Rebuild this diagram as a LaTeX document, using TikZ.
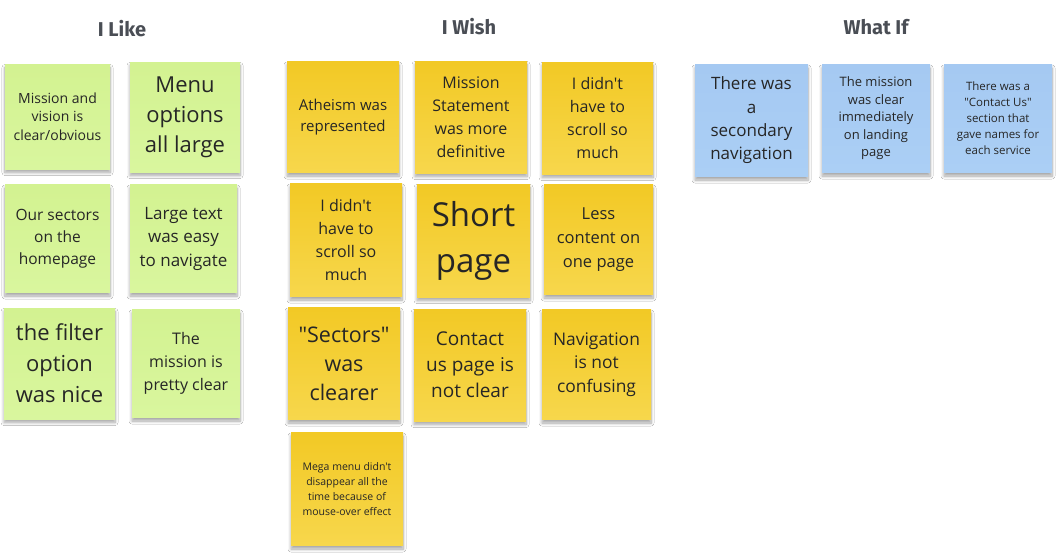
\documentclass[tikz,border=0pt]{standalone}
\usepackage{fontspec}
\usetikzlibrary{shadows.blur}
\newfontfamily\notefont{Open Sans}
\newfontfamily\headfont{Fira Sans}
\definecolor{headgray}{HTML}{4A4E55}
\definecolor{inkgray}{HTML}{262626}
\definecolor{limetop}{HTML}{D3F291}
\definecolor{limebot}{HTML}{D9F69E}
\definecolor{sunTop}{HTML}{F2C925}
\definecolor{sunBot}{HTML}{F7D74C}
\definecolor{skyTop}{HTML}{A5C9F2}
\definecolor{skyBot}{HTML}{ABCFF5}
\newcommand\fs[2]{\fontsize{#1}{#2}\selectfont}
\tikzset{
  sticky/.style={draw=none, align=center, inner sep=0pt, text=inkgray,
    blur shadow={shadow xshift=0pt, shadow yshift=-3.5pt,
      shadow blur radius=3pt, shadow opacity=35, shadow blur steps=8}},
  likenote/.style={sticky, top color=limetop, bottom color=limebot},
  wishnote/.style={sticky, top color=sunTop, bottom color=sunBot},
  ifnote/.style={sticky, top color=skyTop, bottom color=skyBot},
  header/.style={text=headgray, font=\headfont\bfseries\fs{20}{24}},
}
\begin{document}
\begin{tikzpicture}[x=1pt, y=-1pt]
\useasboundingbox (0,0) rectangle (1062,555);
\fill[white] (0,0) rectangle (1062,555);

% column headers
\node[header] (hlike) at (122,29) {I Like};
\node[header] (hwish) at (469,27) {I Wish};
\node[header] (hif)   at (876,27) {What If};

% I Like
\node[likenote, minimum width=105, minimum height=105, font=\notefont\fs{14}{18.3}] (l1) at (57.5,116.5) {Mission and\\vision is\\clear/obvious};
\node[likenote, minimum width=110, minimum height=110, font=\notefont\fs{22}{30}] (l2) at (185,117) {Menu\\options\\all large};
\node[likenote, minimum width=105, minimum height=108, font=\notefont\fs{15.5}{22}] (l3) at (57.5,238.5) {Our sectors\\on the\\homepage};
\node[likenote, minimum width=107, minimum height=108, font=\notefont\fs{17}{23.5}] (l4) at (183.5,238.5) {Large text\\was easy\\to navigate};
\node[likenote, minimum width=111, minimum height=111, font=\notefont\fs{22}{31}] (l5) at (59.5,363.5) {the filter\\option\\was nice};
\node[likenote, minimum width=108, minimum height=108, font=\notefont\fs{16}{23}] (l6) at (186,363.5) {The\\mission is\\pretty clear};

% I Wish
\node[wishnote, minimum width=112, minimum height=111, font=\notefont\fs{15}{21}] (w1) at (343,117) {Atheism was\\represented};
\node[wishnote, minimum width=112, minimum height=112, font=\notefont\fs{16}{23}] (w2) at (471,117) {Mission\\Statement\\was more\\definitive};
\node[wishnote, minimum width=111, minimum height=112, font=\notefont\fs{16}{23}] (w3) at (597.5,118) {I didn't\\have to\\scroll so\\much};
\node[wishnote, minimum width=112, minimum height=113, font=\notefont\fs{16}{23}] (w4) at (346,240) {I didn't\\have to\\scroll so\\much};
\node[wishnote, minimum width=113, minimum height=113, font=\notefont\fs{33}{46}] (w5) at (473.5,240.5) {Short\\page};
\node[wishnote, minimum width=109, minimum height=110, font=\notefont\fs{16.5}{24}] (w6) at (598.5,239.5) {Less\\content on\\one page};
\node[wishnote, minimum width=112, minimum height=112, font=\notefont\fs{21.5}{29}] (w7) at (344,363.5) {"Sectors"\\was\\clearer};
\node[wishnote, minimum width=112, minimum height=112, font=\notefont\fs{19}{26}] (w8) at (470,365) {Contact\\us page is\\not clear};
\node[wishnote, minimum width=109, minimum height=110, font=\notefont\fs{17.4}{23.5}] (w9) at (596.5,364.5) {Navigation\\is not\\confusing};
\node[wishnote, minimum width=112, minimum height=113, font=\notefont\fs{10.5}{15}] (w10) at (347,489) {Mega menu didn't\\disappear all the\\time because of\\mouse-over effect};

% What If
\node[ifnote, minimum width=113, minimum height=112, font=\notefont\fs{17}{23.3}] (f1) at (751.5,120.5) {There was\\a\\secondary\\navigation};
\node[ifnote, minimum width=108, minimum height=108, font=\notefont\fs{13}{17.5}] (f2) at (876,118.5) {The mission\\was clear\\immediately\\on landing\\page};
\node[ifnote, minimum width=108, minimum height=108, font=\notefont\fs{11.5}{16}] (f3) at (998,118.5) {There was a\\"Contact Us"\\section that\\gave names for\\each service};
\end{tikzpicture}
\end{document}
